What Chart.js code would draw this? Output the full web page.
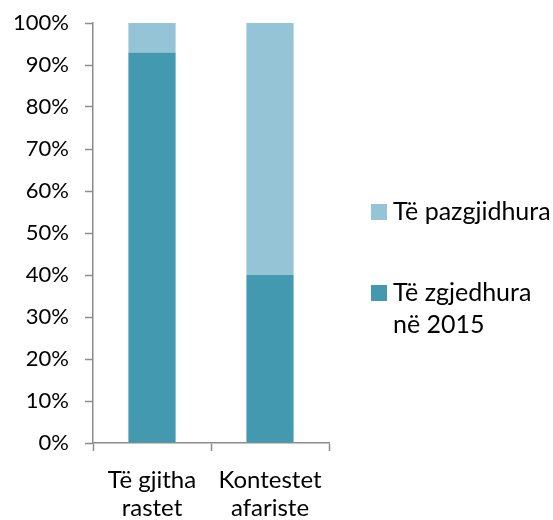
<!DOCTYPE html>
<html>
<head>
<meta charset="utf-8">
<script src="https://cdn.jsdelivr.net/npm/chart.js@4/dist/chart.umd.min.js"></script>
<style>
    html, body { margin: 0; padding: 0; background: #fff; }
    #wrap { width: 553px; height: 520px; position: relative; }
</style>
</head>
<body>
<div id="wrap"><canvas id="chart"></canvas></div>
<script>
const categories = [['Të gjitha', 'rastet'], ['Kontestet', 'afariste']];
const resolved = [93, 40];
const unresolved = [7, 60];
const seriesNames = [['Të zgjedhura', 'në 2015'], ['Të pazgjidhura']];

const FONT = 'Lato, "Open Sans", sans-serif';
const axisGray = '#8c8c8c';

// legend drawn by hand so the label can break over two lines
const sideLegend = {
    id: 'sideLegend',
    afterDraw(chart) {
        const ctx = chart.ctx;
        const area = chart.chartArea;
        const x = area.right + 42;
        const items = chart.data.datasets.slice().reverse();
        const rows = [212, 293];
        ctx.save();
        ctx.font = '25px ' + FONT;
        ctx.textBaseline = 'middle';
        items.forEach((ds, i) => {
            const y = rows[i];
            ctx.fillStyle = ds.backgroundColor;
            ctx.fillRect(x, y - 8, 16, 16);
            ctx.fillStyle = '#000';
            const lines = Array.isArray(ds.label) ? ds.label : [ds.label];
            lines.forEach((t, j) => {
                ctx.fillText(t, x + 22, y + j * 32);
            });
        });
        ctx.restore();
    }
};

new Chart(document.getElementById('chart'), {
    type: 'bar',
    data: {
        labels: categories,
        datasets: [{
            label: seriesNames[0],
            data: resolved,
            backgroundColor: '#4399b0',
            categoryPercentage: 0.4,
            barPercentage: 1
        }, {
            label: seriesNames[1],
            data: unresolved,
            backgroundColor: '#94c4d6',
            categoryPercentage: 0.4,
            barPercentage: 1
        }]
    },
    options: {
        responsive: true,
        maintainAspectRatio: false,
        animation: false,
        layout: {
            padding: { top: 23, right: 224, left: 0, bottom: 0 }
        },
        plugins: {
            legend: { display: false },
            tooltip: { enabled: false }
        },
        scales: {
            x: {
                stacked: true,
                grid: {
                    offset: true,
                    drawOnChartArea: false,
                    tickLength: 8,
                    tickColor: axisGray,
                    tickWidth: 1.5
                },
                border: { color: axisGray, width: 1.5 },
                ticks: {
                    color: '#000',
                    font: { family: FONT, size: 24, lineHeight: 1.17 },
                    padding: 15,
                    maxRotation: 0
                },
                afterFit(scale) { scale.height = 77; }
            },
            y: {
                stacked: true,
                min: 0,
                max: 100,
                grid: {
                    drawOnChartArea: false,
                    tickLength: 8,
                    tickColor: axisGray,
                    tickWidth: 1.5
                },
                border: { color: axisGray, width: 1.5 },
                ticks: {
                    stepSize: 10,
                    color: '#000',
                    font: { family: FONT, size: 22 },
                    padding: 16,
                    callback: v => v + '%'
                },
                afterFit(scale) {
                    scale.width = 93;
                    scale.paddingTop = 0;
                    scale.paddingBottom = 0;
                }
            }
        }
    },
    plugins: [sideLegend]
});
</script>
</body>
</html>
